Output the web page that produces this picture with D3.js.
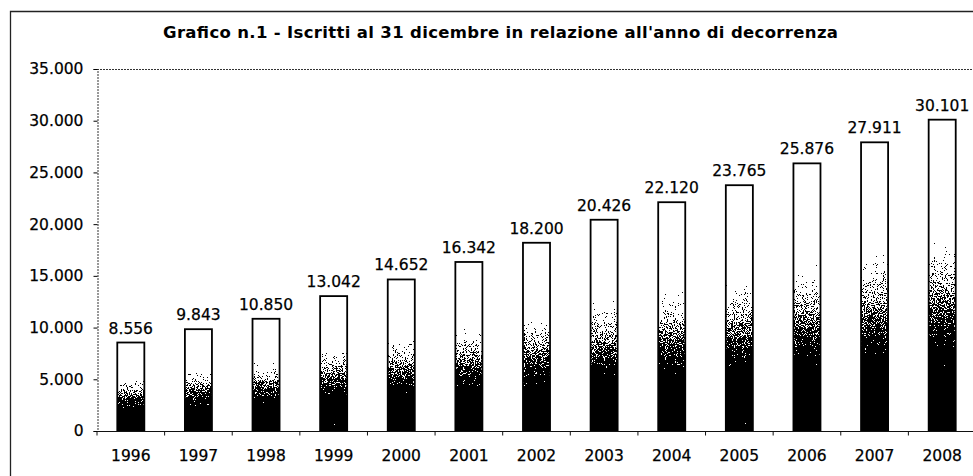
<!DOCTYPE html>
<html>
<head>
<meta charset="utf-8">
<script src="https://cdn.jsdelivr.net/npm/d3@7"></script>
<style>
  body { margin: 0; background: #fff; }
  svg text { font-family: "DejaVu Sans", Verdana, sans-serif; fill: #000; }
  svg text.lbl { stroke: #000; stroke-width: 0.25px; }
</style>
</head>
<body>
<div id="chart"></div>
<script>
// data
var years = ["1996", "1997", "1998", "1999", "2000", "2001", "2002", "2003", "2004", "2005", "2006", "2007", "2008"];
var iscritti = [8556, 9843, 10850, 13042, 14652, 16342, 18200, 20426, 22120, 23765, 25876, 27911, 30101];
var yTicks = [0, 5000, 10000, 15000, 20000, 25000, 30000, 35000];

var titolo = "Grafico n.1 - Iscritti al 31 dicembre in relazione all'anno di decorrenza";

var W = 973, H = 476;
var m = {left: 97, top: 69, right: -3, bottom: 45};

// italian number format (dot as thousands separator)
var fmt = d3.formatLocale({decimal: ",", thousands: ".", grouping: [3], currency: ["", "€"]}).format(",d");

var svg = d3.select("#chart").append("svg")
    .attr("width", W)
    .attr("height", H);

var defs = svg.append("defs");
var grad = defs.append("linearGradient")
    .attr("id", "fade")
    .attr("x1", 0).attr("y1", 0).attr("x2", 0).attr("y2", 1);
grad.selectAll("stop")
  .data([[0, "#fff"], [0.26, "#fff"], [0.8, "#000"], [1, "#000"]])
  .enter().append("stop")
    .attr("offset", function(d) { return d[0]; })
    .attr("stop-color", function(d) { return d[1]; });

// stochastic dither, like the scanned print
var dith = defs.append("filter")
    .attr("id", "dither")
    .attr("color-interpolation-filters", "sRGB")
    .attr("x", 0).attr("y", 0).attr("width", 1).attr("height", 1);
dith.append("feTurbulence")
    .attr("type", "fractalNoise")
    .attr("baseFrequency", 1.1)
    .attr("numOctaves", 1)
    .attr("seed", 3)
    .attr("result", "noise");
dith.append("feColorMatrix")
    .attr("in", "noise")
    .attr("type", "matrix")
    .attr("values", "1 0 0 0 0  1 0 0 0 0  1 0 0 0 0  0 0 0 0 1")
    .attr("result", "gnoise");
dith.append("feComposite")
    .attr("in", "SourceGraphic")
    .attr("in2", "gnoise")
    .attr("operator", "arithmetic")
    .attr("k1", 0).attr("k2", 1.5).attr("k3", 2.0).attr("k4", -1.13)
    .attr("result", "mix");
var ct = dith.append("feComponentTransfer").attr("in", "mix").attr("result", "bw");
["feFuncR", "feFuncG", "feFuncB"].forEach(function(f) {
  ct.append(f).attr("type", "discrete").attr("tableValues", "0 1");
});
dith.append("feComposite")
    .attr("in", "bw")
    .attr("in2", "SourceGraphic")
    .attr("operator", "in");

// outer frame (only top and left visible in the scan)
svg.append("path")
    .attr("d", "M10.5," + H + "V11.5H" + W)
    .attr("fill", "none")
    .attr("stroke", "#222")
    .attr("stroke-width", 1.3);

svg.append("text")
    .attr("x", 500.5)
    .attr("y", 38)
    .attr("text-anchor", "middle")
    .attr("textLength", 675)
    .attr("lengthAdjust", "spacing")
    .style("font-weight", "bold")
    .style("font-size", "16.5px")
    .text(titolo);

var x = d3.scaleBand().domain(years).range([m.left, W - m.right]).paddingInner(0.6).paddingOuter(0.3);
var xb = d3.scaleBand().domain(years).range([m.left, W - m.right]);
var y = d3.scaleLinear().domain([0, 35000]).range([H - m.bottom, m.top]);

var g = svg.append("g");

// plot area border top
g.append("line")
    .attr("x1", m.left).attr("x2", W)
    .attr("y1", y(35000) + 0.5).attr("y2", y(35000) + 0.5)
    .attr("stroke", "#333")
    .attr("stroke-dasharray", "2,1");

// bar fills (dithered) then outlines
g.selectAll("rect.fill")
  .data(iscritti)
  .enter().append("rect")
    .attr("class", "fill")
    .attr("x", function(d, i) { return x(years[i]); })
    .attr("y", function(d) { return y(d); })
    .attr("width", x.bandwidth())
    .attr("height", function(d) { return y(0) - y(d); })
    .attr("fill", "url(#fade)")
    .attr("filter", "url(#dither)");

g.selectAll("rect.bar")
  .data(iscritti)
  .enter().append("rect")
    .attr("class", "bar")
    .attr("x", function(d, i) { return x(years[i]); })
    .attr("y", function(d) { return y(d); })
    .attr("width", x.bandwidth())
    .attr("height", function(d) { return y(0) - y(d); })
    .attr("fill", "none")
    .attr("stroke", "#000")
    .attr("stroke-width", 1.8);

// value labels
g.selectAll("text.val")
  .data(iscritti)
  .enter().append("text")
    .attr("class", "val lbl")
    .attr("x", function(d, i) { return x(years[i]) + x.bandwidth() / 2; })
    .attr("y", function(d) { return y(d) - 9; })
    .attr("text-anchor", "middle")
    .style("font-size", "15.5px")
    .text(function(d) { return fmt(d); });

// y axis
var yAxis = d3.axisLeft(y).tickValues(yTicks).tickSize(4).tickPadding(10).tickFormat(fmt);
var ya = g.append("g")
    .attr("transform", "translate(" + (m.left + 0.5) + ",0)")
    .call(yAxis);
ya.select(".domain").attr("stroke", "#333").attr("stroke-dasharray", "2,1");
ya.selectAll("text").attr("class", "lbl").style("font-size", "15.5px");

// x axis: ticks at category boundaries
var xa = g.append("g")
    .attr("transform", "translate(0," + (y(0) + 0.5) + ")");
xa.append("line")
    .attr("x1", m.left).attr("x2", W)
    .attr("stroke", "#111");
xa.selectAll("line.tk")
  .data(years)
  .enter().append("line")
    .attr("class", "tk")
    .attr("x1", function(d) { return xb(d); })
    .attr("x2", function(d) { return xb(d); })
    .attr("y2", 4)
    .attr("stroke", "#111");
xa.selectAll("text")
  .data(years)
  .enter().append("text")
    .attr("class", "lbl")
    .attr("x", function(d) { return xb(d) + xb.bandwidth() / 2; })
    .attr("y", 29)
    .attr("text-anchor", "middle")
    .style("font-size", "15.5px")
    .text(function(d) { return d; });
</script>
</body>
</html>
